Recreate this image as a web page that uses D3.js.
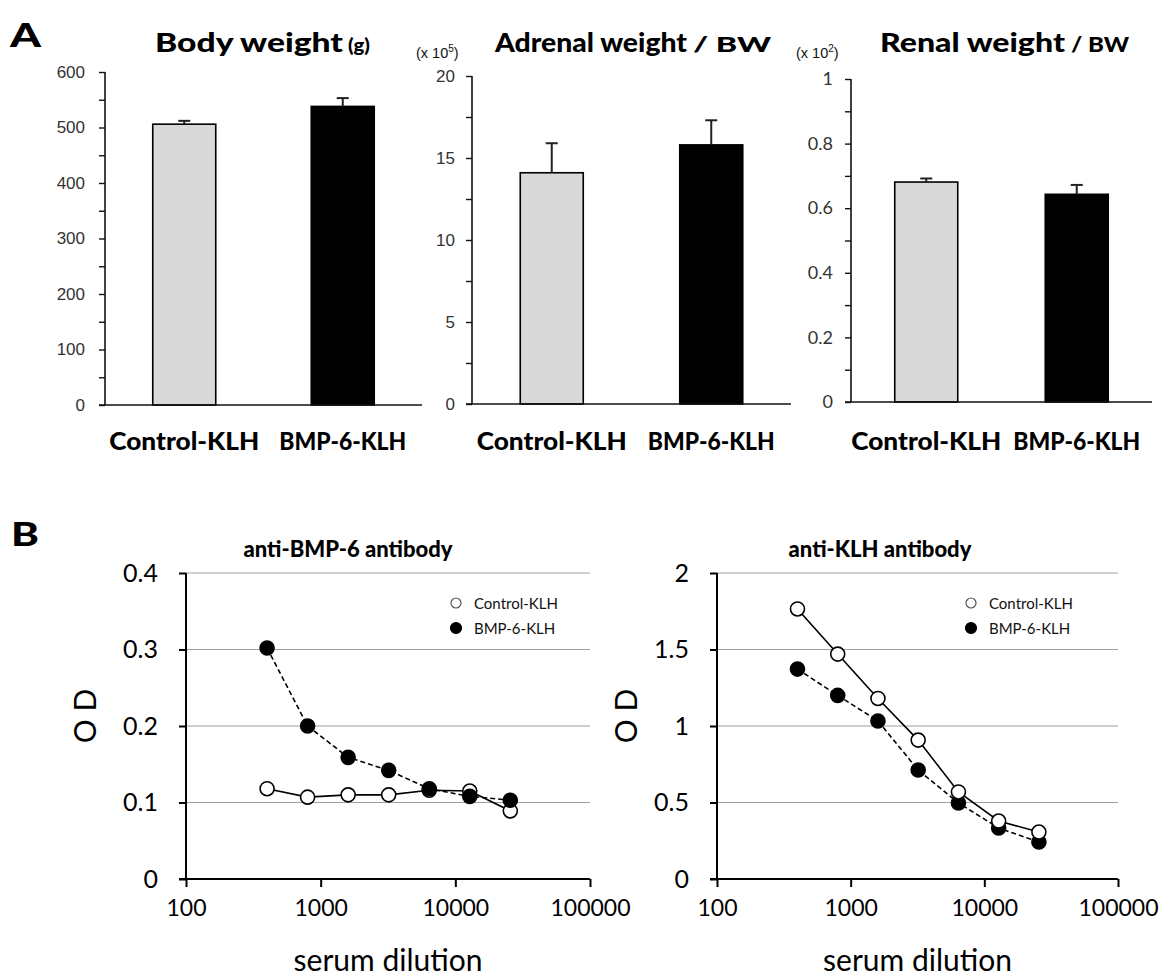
<!DOCTYPE html>
<html><head><meta charset="utf-8">
<script src="https://cdn.jsdelivr.net/npm/d3@7/dist/d3.min.js"></script>
<style>body{margin:0;background:#fff}svg{display:block}</style>
</head><body>
<svg id="c" width="1173" height="978"></svg>
<script>
// ---- Data ----
const barCategories = ["Control-KLH", "BMP-6-KLH"];
const bodyWeight = [506, 538];
const bodyWeightErr = [6, 15];
const adrenalWeight = [14.1, 15.8];
const adrenalWeightErr = [1.8, 1.5];
const renalWeight = [0.681, 0.643];
const renalWeightErr = [0.011, 0.029];

const dilutions = [400, 800, 1600, 3200, 6400, 12800, 25600];
const bmpAbControl = [0.118, 0.107, 0.110, 0.110, 0.116, 0.115, 0.089];
const bmpAbBMP = [0.302, 0.200, 0.159, 0.142, 0.118, 0.108, 0.103];
const klhAbControl = [1.765, 1.47, 1.18, 0.908, 0.569, 0.379, 0.307];
const klhAbBMP = [1.372, 1.20, 1.033, 0.712, 0.497, 0.333, 0.242];

const xTickValues = [100, 1000, 10000, 100000];
const seriesNames = ["Control-KLH", "BMP-6-KLH"];

const svg = d3.select("#c");
const SANS = "Lato, 'Open Sans', sans-serif";
const ARIAL = "'Liberation Sans', Arial, sans-serif";

// panel letters
svg.append("text").attr("x", 10).attr("y", 47).attr("font-family", SANS).attr("font-weight", 900)
  .attr("font-size", 33).attr("textLength", 31).attr("lengthAdjust", "spacingAndGlyphs").text("A");
svg.append("text").attr("x", 11).attr("y", 546).attr("font-family", SANS).attr("font-weight", 900)
  .attr("font-size", 33).attr("textLength", 28).attr("lengthAdjust", "spacingAndGlyphs").text("B");

// ---- Bar panels ----
function barPanel(cfg) {
  const g = svg.append("g");
  const y = d3.scaleLinear().domain([0, cfg.max]).range([cfg.y0, cfg.yTop]);
  const x = d3.scalePoint().domain(barCategories).range([cfg.ax, cfg.ax + cfg.w]).padding(0.5);
  const bw = 63;
  g.selectAll("rect.bar").data(cfg.vals).join("rect")
    .attr("x", (d, i) => x(barCategories[i]) - bw / 2)
    .attr("y", d => y(d))
    .attr("width", bw)
    .attr("height", d => y(0) - y(d))
    .attr("fill", (d, i) => i === 0 ? "#d9d9d9" : "#000")
    .attr("stroke", "#000").attr("stroke-width", 1.6);
  cfg.vals.forEach((v, i) => {
    const cx = x(barCategories[i]);
    g.append("line").attr("x1", cx).attr("x2", cx).attr("y1", y(v)).attr("y2", y(v + cfg.err[i]))
      .attr("stroke", "#222").attr("stroke-width", 2);
    g.append("line").attr("x1", cx - 6).attr("x2", cx + 6).attr("y1", y(v + cfg.err[i])).attr("y2", y(v + cfg.err[i]))
      .attr("stroke", "#222").attr("stroke-width", 2);
  });
  const ticks = d3.range(0, cfg.max + cfg.minor / 2, cfg.minor);
  const ax = g.append("g").attr("transform", `translate(${cfg.ax},0)`)
    .call(d3.axisLeft(y).tickValues(ticks).tickSize(6).tickPadding(cfg.pad)
      .tickFormat(d => (Math.abs(d / cfg.major - Math.round(d / cfg.major)) < 1e-6) ? cfg.fmt(d) : ""));
  ax.select(".domain").attr("stroke", "#111").attr("stroke-width", 1.6).attr("d", `M0,${y(cfg.max)}V${y(0)}`);
  ax.selectAll(".tick line").attr("stroke", "#111").attr("stroke-width", 1.4);
  ax.selectAll(".tick text").attr("font-family", cfg.tickFont).attr("font-size", cfg.tickSize).attr("fill", "#333");
  g.append("line").attr("x1", cfg.ax - 6).attr("x2", cfg.ax + cfg.w).attr("y1", y(0)).attr("y2", y(0))
    .attr("stroke", "#111").attr("stroke-width", 1.6);
  barCategories.forEach((c, i) => {
    g.append("text").attr("x", x(c) - cfg.catW[i] / 2).attr("y", 450)
      .attr("font-family", SANS).attr("font-weight", 900).attr("font-size", 24)
      .attr("textLength", cfg.catW[i]).attr("lengthAdjust", "spacingAndGlyphs").text(c);
  });
  g.append("text").attr("x", cfg.t[0]).attr("y", 52)
    .attr("font-family", SANS).attr("font-weight", 900).attr("font-size", 27)
    .attr("textLength", cfg.t[1] - cfg.t[0]).attr("lengthAdjust", "spacingAndGlyphs").text(cfg.title);
  g.append("text").attr("x", cfg.s[0]).attr("y", 52)
    .attr("font-family", SANS).attr("font-weight", 900).attr("font-size", cfg.subSize)
    .attr("textLength", cfg.s[1] - cfg.s[0]).attr("lengthAdjust", "spacingAndGlyphs").text(cfg.sub);
  if (cfg.mult) {
    const m = g.append("text").attr("x", cfg.multX).attr("y", 58).attr("font-family", ARIAL)
      .attr("font-size", 14.5).attr("fill", "#111");
    m.append("tspan").text("(x 10");
    m.append("tspan").attr("dy", -6).attr("font-size", 10).text(cfg.mult);
    m.append("tspan").attr("dy", 6).text(")");
  }
}

barPanel({ ax: 105, w: 317, y0: 405, yTop: 72, max: 600, minor: 50, major: 100, fmt: d3.format("d"),
  vals: bodyWeight, err: bodyWeightErr, tickFont: ARIAL, tickSize: 17, pad: 14,
  title: "Body weight", sub: "(g)", subSize: 19, t: [155, 343], s: [348, 370], catW: [150, 127] });
barPanel({ ax: 472, w: 319, y0: 404, yTop: 76, max: 20, minor: 2.5, major: 5, fmt: d3.format("d"),
  vals: adrenalWeight, err: adrenalWeightErr, tickFont: ARIAL, tickSize: 17, pad: 11,
  title: "Adrenal weight", sub: "/ BW", subSize: 20, t: [495, 687], s: [693, 771], catW: [150, 127], mult: "5", multX: 416 });
barPanel({ ax: 851, w: 301, y0: 402, yTop: 79, max: 1, minor: 0.1, major: 0.2, fmt: d => d3.format("")(+d.toFixed(1)),
  vals: renalWeight, err: renalWeightErr, tickFont: SANS, tickSize: 18, pad: 12,
  title: "Renal weight", sub: "/ BW", subSize: 20, t: [880, 1065], s: [1071, 1129], catW: [150, 127], mult: "2", multX: 796 });

// ---- Line panels ----
function linePanel(cfg) {
  const g = svg.append("g");
  const x = d3.scaleLog().domain([100, 100000]).range([cfg.ax, cfg.right]);
  const y = d3.scaleLinear().domain([0, cfg.max]).range([879, 573]);
  const yTicks = d3.range(0, cfg.max + cfg.step / 2, cfg.step);
  g.selectAll("line.grid").data(yTicks.slice(1)).join("line")
    .attr("x1", cfg.ax).attr("x2", cfg.right).attr("y1", d => y(d)).attr("y2", d => y(d))
    .attr("stroke", "#a0a0a0").attr("stroke-width", 1.2);
  const ya = g.append("g").attr("transform", `translate(${cfg.ax},0)`)
    .call(d3.axisLeft(y).tickValues(yTicks).tickSize(7).tickPadding(21).tickFormat(cfg.fmt));
  ya.select(".domain").attr("stroke", "#000").attr("stroke-width", 2).attr("d", `M0,${y(cfg.max)}V${y(0)}`);
  ya.selectAll(".tick line").attr("stroke", "#000").attr("stroke-width", 2);
  ya.selectAll(".tick text").attr("font-family", SANS).attr("font-size", 25).attr("fill", "#000");
  const xa = g.append("g").attr("transform", `translate(0,${y(0)})`)
    .call(d3.axisBottom(x).tickValues(xTickValues).tickSize(8).tickPadding(13).tickFormat(d3.format("d")));
  xa.select(".domain").attr("stroke", "#000").attr("stroke-width", 2).attr("d", `M${cfg.ax - 7},0H${cfg.right}`);
  xa.selectAll(".tick line").attr("stroke", "#000").attr("stroke-width", 2);
  xa.selectAll(".tick text").attr("font-family", SANS).attr("font-size", 23).attr("fill", "#000");
  const line = d3.line().x(d => x(d[0])).y(d => y(d[1]));
  const ctrl = dilutions.map((d, i) => [d, cfg.ctrl[i]]);
  const bmp = dilutions.map((d, i) => [d, cfg.bmp[i]]);
  g.append("path").attr("d", line(bmp)).attr("fill", "none").attr("stroke", "#000")
    .attr("stroke-width", 1.6).attr("stroke-dasharray", "5,3");
  g.append("path").attr("d", line(ctrl)).attr("fill", "none").attr("stroke", "#000").attr("stroke-width", 1.6);
  const drawPts = (data, fill) => g.selectAll(null).data(data).join("circle")
    .attr("cx", d => x(d[0])).attr("cy", d => y(d[1])).attr("r", 7)
    .attr("fill", fill).attr("stroke", "#000").attr("stroke-width", 1.6);
  if (cfg.ctrlOnTop) { drawPts(bmp, "#000"); drawPts(ctrl, "#fff"); }
  else { drawPts(ctrl, "#fff"); drawPts(bmp, "#000"); }
  const lx = cfg.legendX;
  [["#fff", 603], ["#000", 628]].forEach((s, i) => {
    g.append("circle").attr("cx", lx).attr("cy", s[1]).attr("r", i === 0 ? 5 : 5.5)
      .attr("fill", s[0]).attr("stroke", i === 0 ? "#555" : "#000").attr("stroke-width", 1.2);
    g.append("text").attr("x", lx + 18).attr("y", s[1] + 5.5).attr("font-family", SANS)
      .attr("font-size", 15).attr("fill", "#111").text(seriesNames[i]);
  });
  g.append("text").attr("x", cfg.titleX).attr("y", 557).attr("text-anchor", "middle")
    .attr("font-family", SANS).attr("font-weight", 900).attr("font-size", 22).text(cfg.title);
  g.append("text").attr("transform", `translate(${cfg.odX},716) rotate(-90)`).attr("text-anchor", "middle")
    .attr("font-family", SANS).attr("font-size", 30).text("O D");
  g.append("text").attr("x", (cfg.ax + cfg.right) / 2).attr("y", 971).attr("text-anchor", "middle")
    .attr("font-family", SANS).attr("font-size", 30).text("serum dilution");
}

linePanel({ ax: 186, right: 590, max: 0.4, step: 0.1, fmt: d => d === 0 ? "0" : d3.format(".1f")(d),
  ctrl: bmpAbControl, bmp: bmpAbBMP, legendX: 456, titleX: 348, odX: 96, title: "anti-BMP-6 antibody", ctrlOnTop: false });
linePanel({ ax: 717, right: 1118, max: 2, step: 0.5, fmt: d => d3.format("")(d),
  ctrl: klhAbControl, bmp: klhAbBMP, legendX: 971, titleX: 880, odX: 637, title: "anti-KLH antibody", ctrlOnTop: true });
</script>
</body></html>
